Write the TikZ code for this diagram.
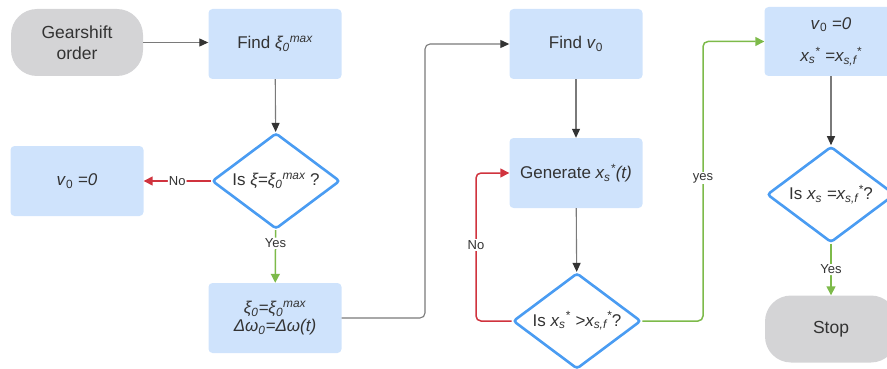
\documentclass[tikz,border=0pt]{standalone}
\usepackage{fontspec}
\setmainfont{Liberation Sans}
\usetikzlibrary{shapes.geometric,arrows.meta}
\definecolor{boxfill}{HTML}{CFE3FC}
\definecolor{dblue}{HTML}{4A9CF2}
\definecolor{pill}{HTML}{D4D4D6}
\definecolor{txt}{HTML}{333333}
\definecolor{lred}{HTML}{D0333E}
\definecolor{lgreen}{HTML}{7DBA4A}
\definecolor{lgray}{HTML}{7A7A7A}
\newcommand{\iv}[1]{\textit{#1}}
\begin{document}
\begin{tikzpicture}[x=1pt,y=-1pt,
  every node/.style={text=txt},
  boxnode/.style={draw=none,fill=boxfill,rounded corners=4pt,minimum width=133pt,minimum height=70pt,inner sep=2pt,align=center,font=\fontsize{17}{20}\selectfont},
  pillnode/.style={fill=pill,rounded corners=26pt,minimum width=132pt,minimum height=67pt,align=center,font=\fontsize{17.5}{21}\selectfont},
  decnode/.style={diamond,aspect=1.33,draw=dblue,line width=2.6pt,fill=white,rounded corners=3pt,minimum width=128pt,minimum height=96pt,inner sep=0pt,align=center,font=\fontsize{17}{20}\selectfont},
  conn/.style={draw=lgray,line width=1.1pt,-{Triangle[length=9pt,width=8pt,color=txt]},rounded corners=5pt},
  redconn/.style={draw=lred,line width=1.5pt,-{Triangle[length=9pt,width=9pt]},rounded corners=5pt},
  greenconn/.style={draw=lgreen,line width=1.5pt,-{Triangle[length=9pt,width=9pt]},rounded corners=5pt},
  lab/.style={fill=white,inner sep=1pt,font=\fontsize{13}{15}\selectfont}]
\useasboundingbox (0,0) rectangle (887,369);
\begin{scope}
\clip (0,0) rectangle (887,369);
\node[pillnode] (go) at (77,42.5) {Gearshift\\order};
\node[boxnode] (f1) at (275,44) {Find \iv{ξ\textsubscript{0}\textsuperscript{max}}};
\node[decnode] (d1) at (276,181) {Is \iv{ξ=ξ\textsubscript{0}\textsuperscript{max}} ?};
\node[boxnode] (v0) at (77,181) {\iv{v}\textsubscript{0} \iv{=0}};
\node[boxnode] (b2) at (275,318) {\iv{ξ\textsubscript{0}=ξ\textsubscript{0}\textsuperscript{max}}\\[-2pt]\iv{Δω\textsubscript{0}=Δω(t)}};
\node[boxnode] (fv) at (576,44) {Find \iv{v}\textsubscript{0}};
\node[boxnode] (gen) at (576,173) {Generate \iv{x\textsubscript{s}\textsuperscript{*}(t)}};
\node[decnode] (d3) at (577,321) {Is \iv{x\textsubscript{s}\textsuperscript{*} >x\textsubscript{s,f}\textsuperscript{*}}?};
\node[boxnode,minimum height=69pt] (r1) at (831,41.5) {\iv{v}\textsubscript{0} \iv{=0}\\[12pt]\iv{x\textsubscript{s}\textsuperscript{*} =x\textsubscript{s,f}\textsuperscript{*}}};
\node[decnode] (d4) at (831,194.5) {Is \iv{x\textsubscript{s} =x\textsubscript{s,f}\textsuperscript{*}}?};
\node[pillnode] (stop) at (831,329) {Stop};

\coordinate (c1) at (425,44);
\coordinate (c2) at (476,173);
\coordinate (c3) at (703,41.5);

\draw[conn] (go.east) -- (go.east -| f1.west);
\draw[conn] (f1) -- (d1);
\draw[redconn] (d1) -- (v0) node[lab,pos=0.5] (lno1) {No};
\draw[greenconn] (d1) -- (b2) node[lab,pos=0.25] (lyes1) {Yes};
\draw[conn] (b2.east) -| (c1) -- (fv.west);
\draw[conn] (fv) -- (gen);
\draw[conn] (gen) -- (d3);
\draw[redconn] (d3.west) -| (c2) -- (gen.west);
\node[lab] (lno2) at (476,245) {No};
\draw[greenconn] (d3.east) -| (c3) -- (r1.west);
\node[lab] (lyes2) at (703,178) {yes};
\draw[conn] (r1) -- (d4);
\draw[greenconn] (d4) -- (stop) node[lab,pos=0.5] (lyes3) {Yes};
\end{scope}
\end{tikzpicture}
\end{document}
